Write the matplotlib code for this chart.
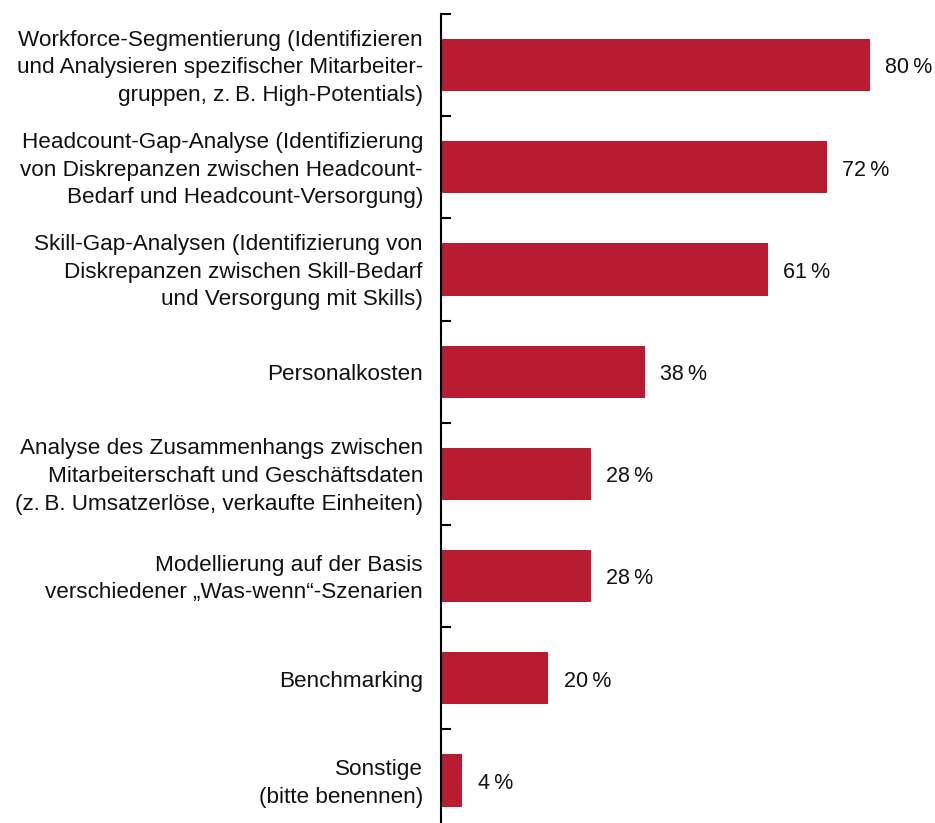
import matplotlib
matplotlib.use("Agg")
import matplotlib.pyplot as plt

categories = [
    "Workforce-Segmentierung (Identifizieren\nund Analysieren spezifischer Mitarbeiter-\ngruppen, z.\u2009B. High-Potentials)",
    "Headcount-Gap-Analyse (Identifizierung\nvon Diskrepanzen zwischen Headcount-\nBedarf und Headcount-Versorgung)",
    "Skill-Gap-Analysen (Identifizierung von\nDiskrepanzen zwischen Skill-Bedarf\nund Versorgung mit Skills)",
    "Personalkosten",
    "Analyse des Zusammenhangs zwischen\nMitarbeiterschaft und Geschäftsdaten\n(z.\u2009B. Umsatzerlöse, verkaufte Einheiten)",
    "Modellierung auf der Basis\nverschiedener „Was-wenn“-Szenarien",
    "Benchmarking",
    "Sonstige\n(bitte benennen)",
]
values = [80, 72, 61, 38, 28, 28, 20, 4]
value_labels = ["80\u2009%", "72\u2009%", "61\u2009%", "38\u2009%", "28\u2009%", "28\u2009%", "20\u2009%", "4\u2009%"]

plt.rcParams['font.family'] = ['Liberation Sans', 'DejaVu Sans']

W, H = 935, 823
fig = plt.figure(figsize=(W / 100, H / 100), dpi=100)
ax_left = 441 / W
ax_top = 1 - 14 / H
ax = fig.add_axes([ax_left, 0, 1 - ax_left, ax_top])

color = "#B81C31"
ypos = list(range(len(categories)))
ax.barh(ypos, values, height=0.51, color=color)

px_per_unit = 102.2
bottom_lim = -0.5 + (H - 14) / px_per_unit
ax.set_ylim(bottom_lim, -0.5)
ax.set_xlim(0, (W - 441) / 5.3625)

for spine in ["top", "right", "bottom"]:
    ax.spines[spine].set_visible(False)
ax.spines["left"].set_linewidth(1.5)
ax.spines["left"].set_color("black")

ax.set_xticks([])
ax.set_yticks([i - 0.5 for i in range(len(categories))])
ax.set_yticklabels([])
ax.tick_params(axis="y", direction="in", length=7, width=1.5, color="black")

for i, cat in enumerate(categories):
    ax.annotate(cat, xy=(0, i), xycoords="data", xytext=(-13, -2),
                textcoords="offset points", ha="right", va="center",
                fontsize=16.2, linespacing=1.42, color="#111111",
                annotation_clip=False)

for i, (v, lab) in enumerate(zip(values, value_labels)):
    ax.annotate(lab, xy=(v, i), xytext=(11, -2), textcoords="offset points",
                ha="left", va="center", fontsize=15.5, color="#111111")

fig.savefig("out.png", dpi=100)
